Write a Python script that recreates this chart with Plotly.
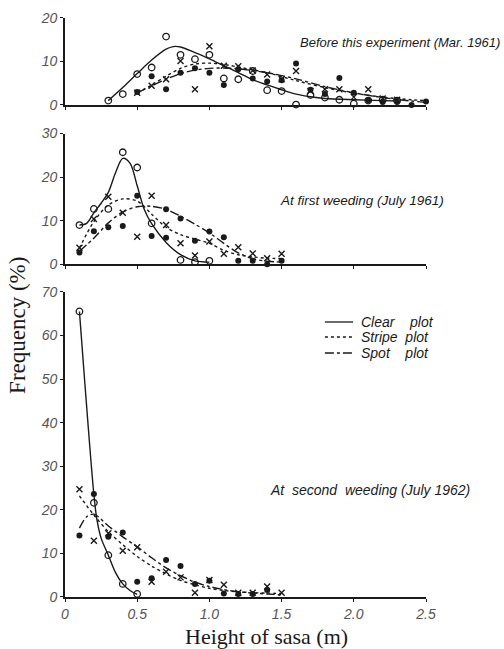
import plotly.graph_objects as go

# ---------------- data ----------------
# Panel 1: Before this experiment (Mar. 1961)
p1_clear_x = [0.3,0.4,0.5,0.6,0.7,0.8,0.9,1.0,1.1,1.2,1.3,1.4,1.5,1.6,1.7,1.8,1.9,2.0,2.1,2.2,2.3]
p1_clear_y = [1.0,2.5,7.1,8.6,15.7,11.5,10.5,11.5,6.1,5.9,7.8,3.4,3.2,0.1,2.3,1.7,1.2,0.3,1.0,1.2,1.0]
p1_stripe_x = [0.5,0.6,0.7,0.8,0.9,1.0,1.1,1.2,1.3,1.4,1.5,1.6,1.7,1.8,1.9,2.0,2.1,2.2,2.3]
p1_stripe_y = [2.8,4.4,5.9,10.1,3.6,13.5,9.0,8.9,7.9,7.0,5.9,7.8,3.2,3.6,3.6,1.8,3.6,1.5,1.2]
p1_spot_x = [0.5,0.6,0.7,0.8,0.9,1.0,1.1,1.2,1.3,1.4,1.5,1.6,1.7,1.8,1.9,2.0,2.1,2.2,2.3,2.4,2.5]
p1_spot_y = [3.0,6.6,3.6,7.4,8.4,7.4,4.6,8.2,6.1,5.4,5.7,9.5,3.5,2.5,6.2,2.8,1.1,0.7,0.7,0.0,0.8]
p1_clear_cx = [0.3,0.4,0.5,0.6,0.7,0.75,0.8,0.9,1.0,1.1,1.2,1.3,1.4,1.5,1.6,1.7,1.8,2.0,2.2,2.3]
p1_clear_cy = [1.0,4.0,7.2,10.3,12.8,13.4,13.3,12.0,10.6,9.0,7.4,5.8,4.6,3.5,2.5,1.9,1.5,1.2,1.0,0.9]
p1_stripe_cx = [0.5,0.6,0.7,0.8,0.9,1.0,1.1,1.2,1.4,1.6,1.8,2.0,2.2,2.4,2.5]
p1_stripe_cy = [2.8,4.6,6.6,8.4,9.4,9.6,9.3,8.7,7.4,5.6,4.0,2.7,1.8,1.2,1.0]
p1_spot_cx = [0.5,0.6,0.7,0.8,0.9,1.0,1.1,1.2,1.4,1.6,1.8,2.0,2.2,2.4,2.5]
p1_spot_cy = [2.8,4.4,5.9,7.2,8.0,8.4,8.5,8.3,7.4,6.0,4.2,2.8,1.7,0.9,0.6]

# Panel 2: At first weeding (July 1961)
p2_clear_x = [0.1,0.2,0.3,0.4,0.5,0.6,0.8,0.9,1.0]
p2_clear_y = [9.0,12.7,12.7,25.7,22.2,9.4,1.0,0.5,0.8]
p2_stripe_x = [0.1,0.2,0.3,0.4,0.5,0.6,0.7,0.8,0.9,1.0,1.1,1.2,1.3,1.4,1.5]
p2_stripe_y = [3.8,10.4,15.5,11.8,6.3,15.7,9.0,4.8,2.0,5.2,2.4,3.9,2.5,1.4,2.4]
p2_spot_x = [0.1,0.2,0.3,0.4,0.5,0.6,0.7,0.7,0.8,0.9,1.0,1.1,1.2,1.3,1.4,1.5]
p2_spot_y = [2.7,7.6,8.5,8.8,15.7,6.5,6.1,12.6,10.5,5.4,7.5,6.2,0.8,0.8,0.0,0.8]
p2_clear_cx = [0.1,0.15,0.2,0.25,0.3,0.35,0.4,0.45,0.5,0.55,0.6,0.7,0.8,0.9,1.0]
p2_clear_cy = [9.0,9.4,11.8,14.0,16.5,21.0,24.3,23.2,18.0,12.5,9.3,5.0,2.2,0.8,0.5]
p2_stripe_cx = [0.1,0.2,0.3,0.4,0.5,0.6,0.7,0.8,0.9,1.0,1.1,1.2,1.3,1.4,1.5]
p2_stripe_cy = [3.7,9.8,13.6,15.0,14.5,11.5,8.5,6.8,5.8,4.8,3.2,2.2,1.7,1.4,1.3]
p2_spot_cx = [0.1,0.2,0.3,0.4,0.5,0.6,0.7,0.8,0.9,1.0,1.1,1.2,1.3,1.4,1.5]
p2_spot_cy = [3.0,6.0,9.5,12.0,13.2,13.3,12.6,11.0,9.2,7.2,4.8,2.6,1.3,0.7,0.5]

# Panel 3: At second weeding (July 1962)
p3_clear_x = [0.1,0.2,0.3,0.4,0.5]
p3_clear_y = [65.5,21.6,9.6,3.0,0.7]
p3_stripe_x = [0.1,0.2,0.3,0.4,0.5,0.6,0.7,0.8,0.9,1.0,1.1,1.2,1.3,1.4,1.5]
p3_stripe_y = [24.7,12.9,14.6,10.6,11.4,3.5,5.8,4.5,1.0,3.9,2.8,1.0,1.0,2.4,1.0]
p3_spot_x = [0.1,0.2,0.3,0.4,0.5,0.6,0.7,0.8,0.9,1.0,1.1,1.2,1.3,1.4]
p3_spot_y = [14.1,23.6,13.8,14.8,3.5,4.3,8.5,7.1,3.0,3.7,0.8,0.7,0.7,1.6]
p3_clear_cx = [0.1,0.2,0.22,0.25,0.3,0.35,0.4,0.45,0.5]
p3_clear_cy = [65.5,23.5,18.0,13.5,9.6,5.6,3.0,1.5,0.6]
p3_stripe_cx = [0.1,0.2,0.3,0.4,0.5,0.6,0.7,0.8,0.9,1.0,1.1,1.2,1.3,1.4,1.5]
p3_stripe_cy = [23.2,18.8,15.0,12.0,9.3,7.1,5.3,3.8,2.8,2.0,1.5,1.2,1.0,0.9,0.8]
p3_spot_cx = [0.1,0.15,0.2,0.3,0.4,0.5,0.6,0.7,0.8,0.9,1.0,1.1,1.2,1.3,1.4,1.5]
p3_spot_cy = [15.8,18.4,19.0,16.3,13.8,11.5,9.0,6.7,4.9,3.4,2.4,1.7,1.2,0.9,0.7,0.5]

series_names = ["Clear\u00a0\u00a0\u00a0 plot", "Stripe\u00a0 plot", "Spot\u00a0\u00a0\u00a0 plot"]
panel_titles = ["Before this experiment (Mar. 1961)",
                "At first weeding (July 1961)",
                "At\u00a0 second\u00a0 weeding (July 1962)"]
x_tickvals = [0, 0.5, 1.0, 1.5, 2.0, 2.5]
x_ticktext = ["0", "0.5", "1.0", "1.5", "2.0", "2.5"]
y_ticks = [[0, 10, 20], [0, 10, 20, 30], [0, 10, 20, 30, 40, 50, 60, 70]]
y_ranges = [[0, 20], [0, 30], [0, 70]]

# ---------------- figure ----------------
INK = "#1a1a1a"
line_dash = ["solid", "dot", "dashdot"]
markers = [dict(symbol="circle-open", size=6.5, color=INK, line=dict(width=1.3, color=INK)),
           dict(symbol="x-thin-open", size=6, color=INK, line=dict(width=1.4, color=INK)),
           dict(symbol="circle", size=6, color=INK, line=dict(width=0, color=INK))]

panels = [
    ((p1_clear_x, p1_clear_y), (p1_stripe_x, p1_stripe_y), (p1_spot_x, p1_spot_y),
     (p1_clear_cx, p1_clear_cy), (p1_stripe_cx, p1_stripe_cy), (p1_spot_cx, p1_spot_cy)),
    ((p2_clear_x, p2_clear_y), (p2_stripe_x, p2_stripe_y), (p2_spot_x, p2_spot_y),
     (p2_clear_cx, p2_clear_cy), (p2_stripe_cx, p2_stripe_cy), (p2_spot_cx, p2_spot_cy)),
    ((p3_clear_x, p3_clear_y), (p3_stripe_x, p3_stripe_y), (p3_spot_x, p3_spot_y),
     (p3_clear_cx, p3_clear_cy), (p3_stripe_cx, p3_stripe_cy), (p3_spot_cx, p3_spot_cy)),
]

fig = go.Figure()
for pi, pdata in enumerate(panels):
    xa = "x" if pi == 0 else f"x{pi+1}"
    ya = "y" if pi == 0 else f"y{pi+1}"
    for si in range(3):
        cx, cy = pdata[3 + si]
        fig.add_trace(go.Scatter(
            x=cx, y=cy, mode="lines", xaxis=xa, yaxis=ya,
            line=dict(color=INK, width=1.4, dash=line_dash[si], shape="spline", smoothing=0.9),
            name=series_names[si], showlegend=False, cliponaxis=False, hoverinfo="skip"))
    for si in range(3):
        mx, my = pdata[si]
        fig.add_trace(go.Scatter(
            x=mx, y=my, mode="markers", xaxis=xa, yaxis=ya,
            marker=markers[si], name=series_names[si],
            showlegend=False, cliponaxis=False))

# plot-area geometry (paper fractions)
domains = [[0.8382, 0.9867], [0.5668, 0.7896], [0.0, 0.5199]]
tickfont = dict(family="Liberation Sans", size=14, color="#555555", style="italic")
axis_common = dict(showline=True, linecolor=INK, linewidth=1.8, ticks="outside",
                   ticklen=3, tickcolor=INK, tickwidth=1.2, showgrid=False,
                   zeroline=False, tickfont=tickfont, automargin=False)

layout = dict(
    width=504, height=649,
    margin=dict(l=65, r=78, t=10, b=52, autoexpand=False),
    paper_bgcolor="white", plot_bgcolor="white",
    showlegend=False,
)
for pi in range(3):
    xk = "xaxis" if pi == 0 else f"xaxis{pi+1}"
    yk = "yaxis" if pi == 0 else f"yaxis{pi+1}"
    ya = "y" if pi == 0 else f"y{pi+1}"
    xa = "x" if pi == 0 else f"x{pi+1}"
    layout[xk] = dict(axis_common, domain=[0, 1], range=[0, 2.5], anchor=ya,
                      tickvals=x_tickvals, ticktext=x_ticktext,
                      showticklabels=(pi == 2))
    layout[yk] = dict(axis_common, domain=domains[pi], range=y_ranges[pi], anchor=xa,
                      tickvals=y_ticks[pi])
fig.update_layout(**layout)

# key (legend) drawn in paper space
key_y = [0.4685, 0.4429, 0.4157]
for si in range(3):
    fig.add_shape(type="line", xref="paper", yref="paper", x0=0.720, x1=0.798,
                  y0=key_y[si], y1=key_y[si],
                  line=dict(color=INK, width=1.3, dash=line_dash[si]))
    fig.add_annotation(text=series_names[si], xref="paper", yref="paper", x=0.815,
                       y=key_y[si], xanchor="left", yanchor="middle", showarrow=False,
                       font=dict(family="Liberation Sans", size=14, color=INK,
                                 style="italic"))

ann_font = dict(family="Liberation Sans", size=13, color=INK, style="italic")
fig.add_annotation(text=panel_titles[0], xref="paper", yref="paper", x=1.21, y=0.944,
                   xanchor="right", yanchor="middle", showarrow=False, font=ann_font)
fig.add_annotation(text=panel_titles[1], xref="paper", yref="paper", x=0.59, y=0.676,
                   xanchor="left", yanchor="middle", showarrow=False,
                   font=dict(ann_font, size=13.5))
fig.add_annotation(text=panel_titles[2], xref="paper", yref="paper", x=0.562, y=0.182,
                   xanchor="left", yanchor="middle", showarrow=False,
                   font=dict(ann_font, size=14))
fig.add_annotation(text="Frequency (%)", xref="paper", yref="paper", x=-0.13, y=0.462,
                   textangle=-90, xanchor="center", yanchor="middle", showarrow=False,
                   font=dict(family="Liberation Serif", size=23, color=INK))
fig.add_annotation(text="Height of sasa (m)", xref="paper", yref="paper", x=0.557, y=-0.067,
                   xanchor="center", yanchor="middle", showarrow=False,
                   font=dict(family="Liberation Serif", size=22, color=INK))

fig.write_html("out.html")
